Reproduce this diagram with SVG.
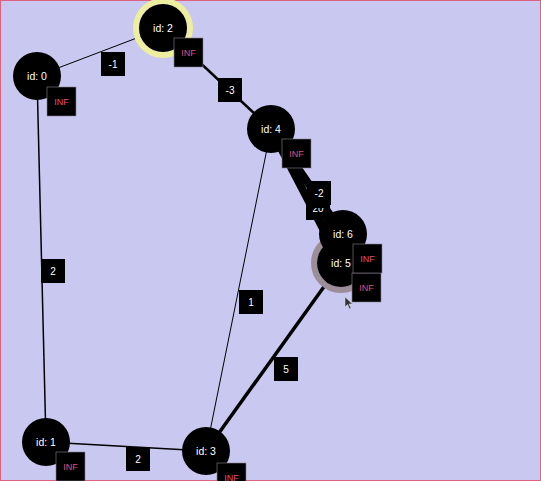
<svg xmlns="http://www.w3.org/2000/svg" width="541" height="481" viewBox="0 0 541 481">
<style>
.bg{fill:#c9c8f1;stroke:#e0607e;stroke-width:1}
.e{stroke:#000;fill:none;stroke-linecap:butt}
.lb{fill:#000}
.lt{fill:#fff;font-family:"Liberation Sans",Arial,sans-serif;font-size:10px;text-anchor:middle;dominant-baseline:central}
.nc{fill:#000}
.nt{fill:#fff;font-family:"Liberation Sans",Arial,sans-serif;font-size:10.5px;text-anchor:middle;dominant-baseline:central}
.ib{fill:#000;stroke:#8a8090;stroke-width:0.6}
.it{fill:#e0507c;font-family:"Liberation Sans",Arial,sans-serif;font-size:9px;text-anchor:middle;dominant-baseline:central}
</style>
<defs>
<clipPath id="half"><rect x="300" y="208" width="40" height="20"/></clipPath>
</defs>
<rect class="bg" x="0.5" y="0.5" width="540" height="480"/>
<g id="connectors">
<line class="e" x1="37" y1="76" x2="163" y2="28" stroke-width="1"/>
<line class="e" x1="163" y1="28" x2="271" y2="129" stroke-width="2.5"/>
<line class="e" x1="37" y1="76" x2="46" y2="442" stroke-width="1.5"/>
<line class="e" x1="271" y1="129" x2="206" y2="451" stroke-width="1"/>
<line class="e" x1="206" y1="451" x2="341" y2="263" stroke-width="3.5"/>
<line class="e" x1="46" y1="442" x2="206" y2="451" stroke-width="1.5"/>
<line class="e" x1="271" y1="129" x2="343" y2="234" stroke-width="8"/>
<line class="e" x1="271" y1="129" x2="341" y2="263" stroke-width="8"/>
<g id="labels">
<rect class="lb" x="101" y="52" width="24" height="24"/><text class="lt" x="113" y="64">-1</text>
<rect class="lb" x="218" y="78" width="24" height="24"/><text class="lt" x="230" y="90">-3</text>
<rect class="lb" x="41" y="259" width="24" height="24"/><text class="lt" x="53" y="271">2</text>
<rect class="lb" x="239" y="290" width="24" height="24"/><text class="lt" x="251" y="302">1</text>
<rect class="lb" x="274" y="357" width="24" height="24"/><text class="lt" x="286" y="369">5</text>
<rect class="lb" x="126" y="447" width="24" height="24"/><text class="lt" x="138" y="459">2</text>
<rect class="lb" x="306" y="196" width="24" height="24"/><text class="lt" x="318" y="208" clip-path="url(#half)">20</text>
<rect class="lb" x="307" y="181" width="24" height="24"/><text class="lt" x="319" y="193">-2</text>
</g>
</g>
<g id="node0"><circle class="nc" cx="37" cy="76" r="24"/><text class="nt" x="37" y="76">id: 0</text><rect class="ib" x="47" y="87" width="29" height="29"/><text class="it" x="61.5" y="101.5">INF</text></g>
<g id="node2"><circle cx="163" cy="28" r="27" fill="none" stroke="#eeeea0" stroke-width="6"/><circle class="nc" cx="163" cy="28" r="24"/><text class="nt" x="163" y="28">id: 2</text><rect class="ib" x="174" y="38" width="29" height="29"/><text class="it" x="188.5" y="52.5">INF</text></g>
<g id="node4"><circle class="nc" cx="271" cy="129" r="24"/><text class="nt" x="271" y="129">id: 4</text><rect class="ib" x="282" y="139" width="29" height="29"/><text class="it" x="296.5" y="153.5">INF</text></g>
<g id="node1"><circle class="nc" cx="46" cy="442" r="24"/><text class="nt" x="46" y="442">id: 1</text><rect class="ib" x="56" y="452" width="29" height="29"/><text class="it" x="70.5" y="466.5">INF</text></g>
<g id="node3"><circle class="nc" cx="206" cy="451" r="24"/><text class="nt" x="206" y="451">id: 3</text><rect class="ib" x="217" y="463" width="29" height="29"/><text class="it" x="231.5" y="477.5">INF</text></g>
<g id="node5"><circle cx="341" cy="263" r="27" fill="none" stroke="#9c8e98" stroke-width="6"/><circle class="nc" cx="341" cy="263" r="24"/><text class="nt" x="341" y="263">id: 5</text><rect class="ib" x="352" y="273" width="29" height="29"/><text class="it" x="366.5" y="287.5">INF</text></g>
<g id="node6"><circle class="nc" cx="343" cy="234" r="24"/><text class="nt" x="343" y="234">id: 6</text><rect class="ib" x="353" y="244" width="29" height="29"/><text class="it" x="367.5" y="258.5">INF</text></g>
<path d="M345 297 L345 307 L347.5 304.5 L349.5 309 L351 308.3 L349 304 L352.5 304 Z" fill="#333" stroke="#ddd" stroke-width="0.5"/>
</svg>
